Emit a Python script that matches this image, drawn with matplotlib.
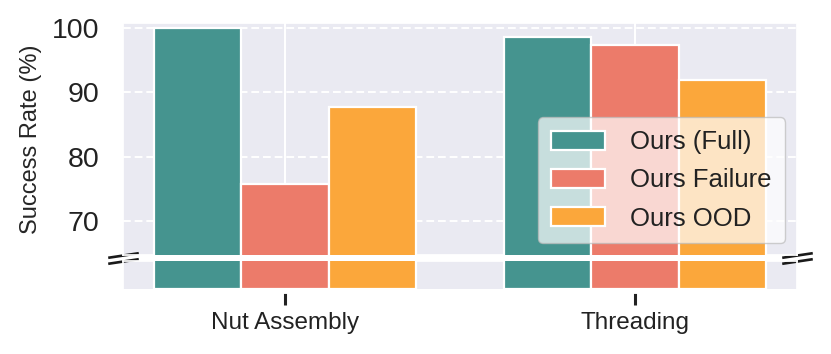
import numpy as np
import matplotlib
matplotlib.use("Agg")
import matplotlib.pyplot as plt
import seaborn as sns

# dane
categories = ['Nut Assembly', 'Threading']
series_names = ['Ours (Full)', 'Ours Failure', 'Ours OOD']
full = [100.0, 98.6]
failure = [75.8, 97.4]
ood = [87.8, 91.9]
colors = ['#45948F', '#EC7B6A', '#FBA73B']

sns.set_theme(style='darkgrid')
plt.rcParams['font.family'] = ['Liberation Sans', 'DejaVu Sans']
plt.rcParams['text.color'] = '#222222'
plt.rcParams['xtick.labelcolor'] = '#222222'
plt.rcParams['ytick.labelcolor'] = '#222222'

fig = plt.figure(figsize=(8.31, 3.54), dpi=100)
ax_top = fig.add_axes([0.148, 0.280, 0.811, 0.656])
ax_bot = fig.add_axes([0.148, 0.184, 0.811, 0.079], sharex=ax_top)

x = np.arange(len(categories))
width = 0.25
values = [full, failure, ood]

for ax in (ax_top, ax_bot):
    for k, (vals, name, col) in enumerate(zip(values, series_names, colors)):
        ax.bar(x + (k - 1) * width, vals, width, color=col, edgecolor='white',
               linewidth=1.6, label=name, zorder=3)
    ax.xaxis.grid(True, color='white', linestyle='-', linewidth=1.5)
    ax.yaxis.grid(True, color='white', linestyle=(0, (4, 2)), linewidth=1.4)

ax_top.set_xlim(-0.463, 1.463)
ax_top.set_ylim(64.8, 100.8)
ax_top.set_yticks([70, 80, 90, 100])
ax_top.tick_params(axis='y', labelsize=20.5, pad=17, length=0)
ax_top.tick_params(axis='x', labelbottom=False, length=0)
ax_top.set_ylabel('Success Rate (%)', fontsize=17, labelpad=7)

ax_bot.set_ylim(0, 5)
ax_bot.set_yticks([])
ax_bot.yaxis.grid(False)
ax_bot.set_xticks(x)
ax_bot.set_xticklabels(categories)
ax_bot.spines['bottom'].set_position(('outward', 3))
ax_bot.tick_params(axis='x', labelsize=17.5, length=8.5, width=2.2, color='#222222',
                   direction='out', bottom=True, pad=5)

# znaczniki przerwy osi
mk = dict(marker=[(-1, -0.15), (1, 0.15)], markersize=22, linestyle='none',
          color='#1a1a1a', mec='#1a1a1a', mew=1.9, clip_on=False, zorder=1)
ax_top.plot([0, 1], [0, 0], transform=ax_top.transAxes, **mk)
ax_bot.plot([0, 1], [1, 1], transform=ax_bot.transAxes, **mk)

leg = ax_top.legend(loc='upper right', bbox_to_anchor=(0.982, 0.592), borderaxespad=0,
                    fontsize=18.5, facecolor='white', framealpha=0.7, edgecolor='#bbbbbb',
                    handlelength=2.1, handleheight=0.75, handletextpad=1.0,
                    borderpad=0.5, labelspacing=0.55)
leg.set_zorder(5)

fig.savefig('out.png', dpi=100)
